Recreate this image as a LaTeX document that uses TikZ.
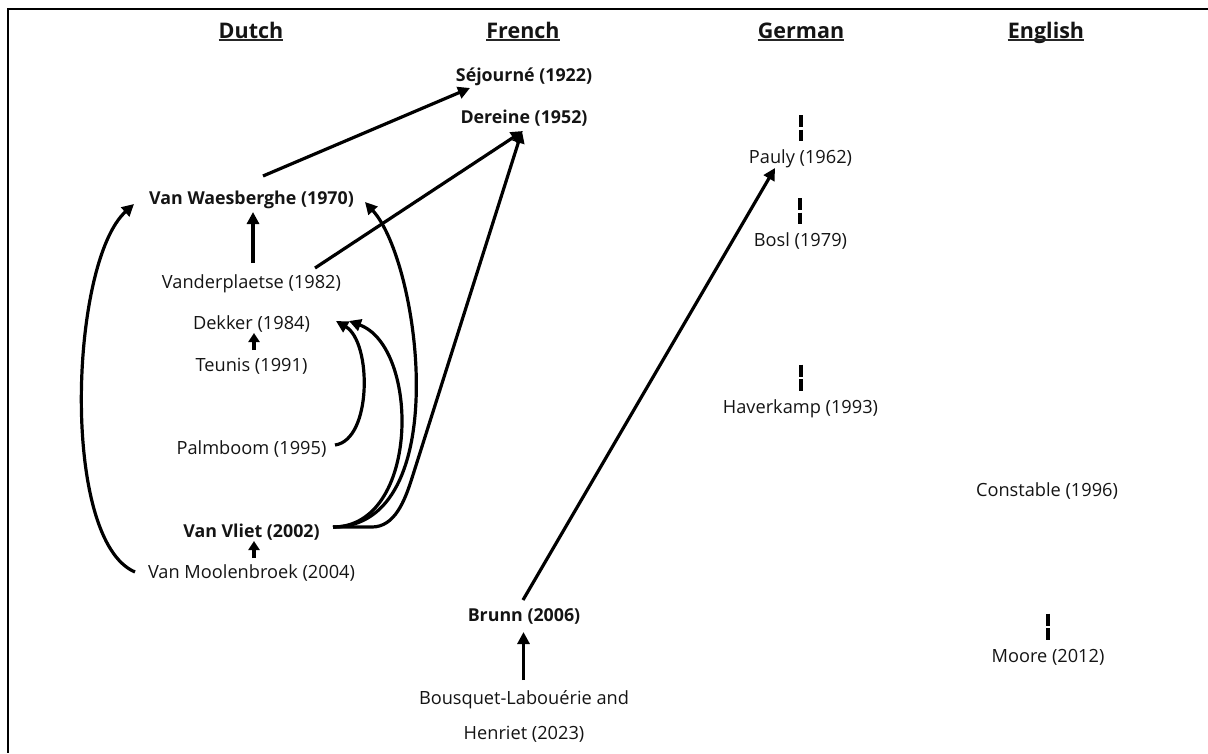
\documentclass[tikz,border=0pt]{standalone}
\usepackage{fontspec}
\setmainfont{Open Sans}
\usetikzlibrary{arrows.meta,calc}

\begin{document}
\begin{tikzpicture}[x=1pt,y=-1pt,
  lbl/.style={inner sep=0pt, anchor=base, text=black!92,
              font=\fontsize{18.2}{20}\selectfont},
  key/.style={lbl, font=\fontsize{17.8}{20}\selectfont\bfseries},
  head/.style={inner sep=0pt, anchor=base, text=black!92,
               font=\fontsize{21.5}{24}\selectfont\bfseries},
  uline/.style={line width=1.5pt, black!85},
  arr/.style={line width=3.2pt, -{Triangle[length=12pt,width=12pt]}},
  sarr/.style={line width=3.2pt, -{Triangle[length=9pt,width=11pt]}},
  tick/.style={line width=4pt, dash pattern=on 12pt off 2.5pt},
  frame/.style={line width=2pt}]

\useasboundingbox (0,0) rectangle (1208,753);

% frame along the top and left edges
\draw[frame] (1208,9) -- (8,9) -- (8,753);

% column headings
\node[head] (hdu) at (251,38) {Dutch};
\node[head] (hfr) at (523,38) {French};
\node[head] (hge) at (801,38) {German};
\node[head] (hen) at (1046,38) {English};
\foreach \h in {hdu,hfr,hge,hen}
  \draw[uline] ($(\h.base west)+(0,2)$) -- ($(\h.base east)+(0,2)$);

% Dutch column
\node[key] (vw)  at (251.5,204) {Van Waesberghe (1970)};
\node[lbl] (vdp) at (251.5,288) {Vanderplaetse (1982)};
\node[lbl] (dek) at (251.5,329) {Dekker (1984)};
\node[lbl] (teu) at (251.5,371) {Teunis (1991)};
\node[lbl] (pal) at (251.5,454) {Palmboom (1995)};
\node[key] (vv)  at (251.5,537) {Van Vliet (2002)};
\node[lbl] (vm)  at (251.5,578) {Van Moolenbroek (2004)};

% French column
\node[key] (sej) at (524,81)  {Séjourné (1922)};
\node[key] (der) at (524,123) {Dereine (1952)};
\node[key] (bru) at (524,621) {Brunn (2006)};
\node[lbl] (bou) at (524,704) {Bousquet-Labouérie and};
\node[lbl] (hen2) at (524,739) {Henriet (2023)};

% German column
\node[lbl] (pau) at (800.5,163) {Pauly (1962)};
\node[lbl] (bos) at (800.5,246) {Bosl (1979)};
\node[lbl] (hav) at (800.5,413) {Haverkamp (1993)};

% English column
\node[lbl] (con) at (1047,496) {Constable (1996)};
\node[lbl] (moo) at (1048,662) {Moore (2012)};

% short dashed marks above isolated entries
\draw[tick] ($(pau.base)+(0.5,-48)$) -- ($(pau.base)+(0.5,-22)$);
\draw[tick] ($(bos.base)+(-1,-48)$) -- ($(bos.base)+(-1,-22)$);
\draw[tick] ($(hav.base)+(0.5,-48.5)$) -- ($(hav.base)+(0.5,-22.5)$);
\draw[tick] ($(moo.base)+(0,-48.5)$) -- ($(moo.base)+(0,-22.5)$);

% straight influences
\draw[arr] ($(vw.base)+(11.5,-28)$) -- ($(sej.base)+(-54,7)$);
\draw[arr] ($(vdp.base)+(63.5,-20)$) -- ($(der.base)+(-1,8)$);
\draw[arr] ($(vdp.base)+(1.5,-25)$) -- ($(vw.base)+(1.5,8)$);
\draw[sarr] ($(teu.base)+(2.5,-21)$) -- ($(dek.base)+(2.5,4)$);
\draw[sarr] ($(vm.base)+(2.5,-20)$) -- ($(vv.base)+(2.5,4)$);
\draw[arr] ($(bou.base)+(-0.5,-24)$) -- ($(bru.base)+(-0.5,11)$);
\draw[arr] ($(bru.base)+(-1,-21)$) -- ($(pau.base)+(-25.5,5)$);

% curved influences
\draw[arr] ($(vm.base)+(-116.5,-6)$) .. controls (60,540) and (70,262) .. ($(vw.base)+(-117.5,0)$);
\draw[arr] ($(pal.base)+(83.5,-9)$) .. controls (372,440) and (372,342) .. ($(dek.base)+(84.5,-8)$);
\draw[arr] ($(vv.base)+(81.5,-10)$) .. controls (420,527) and (420,347) .. ($(dek.base)+(97.5,-8)$);
\draw[arr] ($(vv.base)+(81.5,-10)$) .. controls (455,527) and (420,262) .. ($(vw.base)+(113.5,-2)$);
\draw[arr] ($(vv.base)+(81.5,-10)$) -- (372,527) .. controls (395,527) and (405,500) .. (412,478) -- ($(der.base)+(-2,8)$);

\end{tikzpicture}
\end{document}
